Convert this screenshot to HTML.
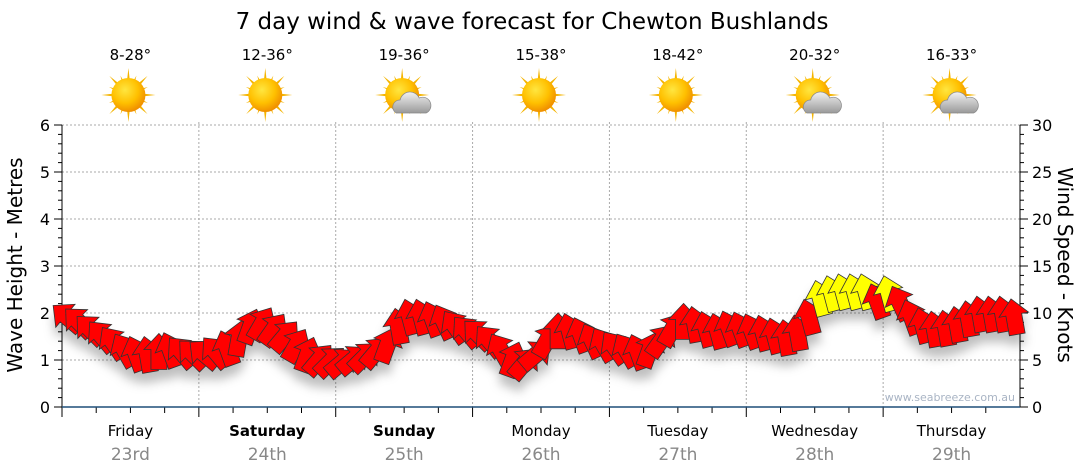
<!DOCTYPE html>
<html><head><meta charset="utf-8"><style>
body{margin:0;background:#fff;}
svg{display:block;font-family:"DejaVu Sans","Liberation Sans",sans-serif;}
</style></head><body>
<svg id="chart" width="1080" height="475" viewBox="0 0 1080 475">
<defs>
<radialGradient id="sunG" cx="40%" cy="35%" r="65%"><stop offset="0" stop-color="#ffe640"/><stop offset="0.6" stop-color="#ffc000"/><stop offset="1" stop-color="#f09000"/></radialGradient>
<linearGradient id="cloudG" x1="0" y1="0" x2="0" y2="1"><stop offset="0" stop-color="#f2f2f2"/><stop offset="1" stop-color="#9a9a9a"/></linearGradient>
<filter id="shadow" x="-10%" y="-30%" width="120%" height="180%"><feDropShadow dx="0" dy="10" stdDeviation="5" flood-color="#000" flood-opacity="0.25"/></filter>
</defs>
<text x="532" y="29" font-size="23" text-anchor="middle" fill="#000">7 day wind &amp; wave forecast for Chewton Bushlands</text>
<g id="grid"></g>
<g id="axes"></g>
<g id="icons"></g>
<g id="arrows" filter="url(#shadow)"></g>
<text x="1015" y="401" font-size="11" text-anchor="end" fill="#a9b4c4">www.seabreeze.com.au</text>
<text transform="translate(22,265) rotate(-90)" font-size="20" text-anchor="middle">Wave Height - Metres</text>
<text transform="translate(1058,265) rotate(90)" font-size="20" text-anchor="middle">Wind Speed - Knots</text>
</svg>
<script>
const days=["Friday","Saturday","Sunday","Monday","Tuesday","Wednesday","Thursday"];
const dates=["23rd","24th","25th","26th","27th","28th","29th"];
const boldDays=[false,true,true,false,false,false,false];
const temps=["8-28°","12-36°","19-36°","15-38°","18-42°","20-32°","16-33°"];
const cloudy=[false,false,true,false,false,true,true];
const waveTicks=[0,1,2,3,4,5,6];
const windTicks=[0,5,10,15,20,25,30];
// wind speed (knots), every 2 hours
const windSpeed=[9.5,9,8.2,7.5,6.8,6,5.6,5.5,5.8,6,5.8,5.6,
5.6,5.8,6.2,7.2,8.5,8.8,8.2,7.5,6.5,5.5,5,4.8,
4.7,5,5.3,5.8,6.5,8.5,9.5,9.5,9.3,9,8.5,8,
7.7,7,6,5,4.6,5.5,7,8,8,7.6,7,6.6,
6.3,6,5.8,6,7,8.2,9,8.7,8.2,8,8.3,8.2,
8,7.8,7.5,7.3,7.8,9.5,11.5,12,12.2,12.2,12.2,11.2,
12,11,9.5,8.6,8.2,8.3,8.7,9.3,9.8,9.8,9.8,9.5];
// wind direction (arrow rotation, degrees clockwise from up)
const windDir=[-50,-45,-45,-40,-35,-30,-20,-10,0,-20,-40,-45,
-50,-40,-20,10,20,30,35,40,30,20,40,45,
50,50,45,40,20,-10,-15,-15,-20,-25,-35,-40,
-45,-40,-30,20,40,50,30,0,-15,-20,-25,-30,
-35,-30,-20,20,35,30,0,-10,-15,-15,-20,-20,
-20,-15,-15,-10,-10,-15,-15,-15,-15,-15,-15,-20,
-15,-25,-20,-15,-10,-10,-10,-10,-10,-10,-10,-10];
const X0=62,X1=1020,Y0=407,Y1=125;
const dayW=(X1-X0)/7;
function yWave(m){return Y0-(m/6)*(Y0-Y1);}
function yWind(k){return Y0-(k/30)*(Y0-Y1);}
function xTime(h){return X0+h/(24*7)*(X1-X0);}
const NS="http://www.w3.org/2000/svg";
function mk(tag,attrs,parent,text){const e=document.createElementNS(NS,tag);for(const k in attrs)e.setAttribute(k,attrs[k]);if(text!==undefined)e.textContent=text;parent.appendChild(e);return e;}
const grid=document.getElementById('grid'),axes=document.getElementById('axes'),icons=document.getElementById('icons'),arrows=document.getElementById('arrows');
waveTicks.forEach(m=>{if(m>0){const l=mk('line',{x1:X0,x2:X1,y1:yWave(m),y2:yWave(m),stroke:'#aaa','stroke-dasharray':'2,2'},grid);

}
const t=mk('text',{x:X0-12,y:yWave(m)+6,'font-size':16,'text-anchor':'end'},axes,String(m));

});
windTicks.forEach(k=>{const t=mk('text',{x:X1+12,y:yWind(k)+6,'font-size':16},axes,String(k));

});
for(let i=0;i<=30;i++){const y=Y0-i*(Y0-Y1)/30;const len=(i%5==0)?8:4;
mk('line',{x1:X0-len,x2:X0,y1:y,y2:y,stroke:'#000'},axes);
mk('line',{x1:X1,x2:X1+len,y1:y,y2:y,stroke:'#000'},axes);}
mk('line',{x1:X0,x2:X0,y1:Y1,y2:Y0,stroke:'#000'},axes);
mk('line',{x1:X1,x2:X1,y1:Y1,y2:Y0,stroke:'#000'},axes);
for(let d=0;d<7;d++){
 const xs=X0+d*dayW;
 if(d>0){const g=mk('line',{x1:xs,x2:xs,y1:Y1-3,y2:Y0,stroke:'#aaa','stroke-dasharray':'2,2'},grid);
 
 }
 for(let q=0;q<4;q++){const x=xs+q*dayW/4;mk('line',{x1:x,x2:x,y1:Y0,y2:Y0+(q==0?10:6),stroke:'#000'},axes);}
 const cx=xs+dayW/2;
 const n=mk('text',{x:cx,y:436,'font-size':15,'text-anchor':'middle','font-weight':boldDays[d]?'bold':'normal'},axes,days[d]);
 
 
 const dt=mk('text',{x:cx,y:460,'font-size':17,'text-anchor':'middle',fill:'#888'},axes,dates[d]);
 
 
 const tp=mk('text',{x:cx,y:60,'font-size':15,'text-anchor':'middle'},icons,temps[d]);
 
 
 const ic=mk('g',{transform:`translate(${cx-2},95)`},icons);
 
 
 for(let r=0;r<16;r++){const a=r*22.5;const L=(r%2==0)?27:21;
  mk('polygon',{points:`-3,0 0,-${L} 3,0`,fill:'#f4b400',transform:`rotate(${a})`},ic);}
 mk('circle',{r:17,fill:'url(#sunG)'},ic);
 if(cloudy[d]){mk('path',{d:'M-6,18 a7,7 0 0 1 4,-13 a10,10 0 0 1 19,-2 a8,8 0 0 1 7,15 z',fill:'url(#cloudG)',stroke:'#888','stroke-width':0.7},ic);}
}
mk('line',{x1:X0,x2:X1,y1:Y0,y2:Y0,stroke:'#1f4e79','stroke-width':1.5},axes);
windSpeed.forEach((k,i)=>{
 const x=xTime(i*2+1),y=yWind(k);
 const col=k>=11.5?'#ffff00':'#ff0000';
 const p=mk('polygon',{points:'0,-19 15,-3 8,-3 8,17 -8,17 -8,-3 -15,-3',fill:col,stroke:'#333','stroke-width':0.8,transform:`translate(${x},${y}) rotate(${windDir[i]})`},arrows);
 
 
});
</script>
</body></html>
